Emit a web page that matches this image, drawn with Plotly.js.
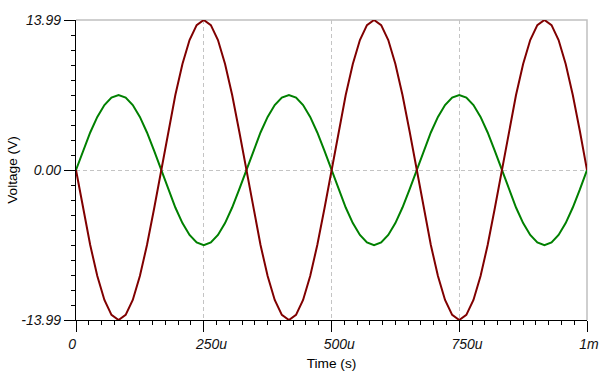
<!DOCTYPE html>
<html><head><meta charset="utf-8">
<script src="https://cdn.plot.ly/plotly-3.0.1.min.js"></script>
<style>html,body{margin:0;padding:0;background:#fff}#chart{width:603px;height:380px}</style>
</head><body><div id="chart"></div>
<script>
// time in microseconds
const time = [0, 13.9, 27.8, 41.7, 55.6, 69.4, 83.3, 97.2, 111.1, 125.0, 138.9, 152.8, 166.7, 180.6, 194.4, 208.3, 222.2, 236.1,
  250.0, 263.9, 277.8, 291.7, 305.6, 319.4, 333.3, 347.2, 361.1, 375.0, 388.9, 402.8, 416.7, 430.6, 444.4, 458.3, 472.2, 486.1,
  500.0, 513.9, 527.8, 541.7, 555.6, 569.4, 583.3, 597.2, 611.1, 625.0, 638.9, 652.8, 666.7, 680.6, 694.4, 708.3, 722.2, 736.1,
  750.0, 763.9, 777.8, 791.7, 805.6, 819.4, 833.3, 847.2, 861.1, 875.0, 888.9, 902.8, 916.7, 930.6, 944.4, 958.3, 972.2, 986.1, 1000.0];
const vGreen = [0, 1.81, 3.50, 4.95, 6.06, 6.76, 7.00, 6.76, 6.06, 4.95, 3.50, 1.81, 0, -1.81, -3.50, -4.95, -6.06, -6.76, -7.02, -6.76, -6.06, -4.95, -3.50, -1.81,
  0, 1.81, 3.50, 4.95, 6.06, 6.76, 7.00, 6.76, 6.06, 4.95, 3.50, 1.81, 0, -1.81, -3.50, -4.95, -6.06, -6.76, -7.02, -6.76, -6.06, -4.95, -3.50, -1.81,
  0, 1.81, 3.50, 4.95, 6.06, 6.76, 7.00, 6.76, 6.06, 4.95, 3.50, 1.81, 0, -1.81, -3.50, -4.95, -6.06, -6.76, -7.02, -6.76, -6.06, -4.95, -3.50, -1.81, 0];
const vRed = [0, -3.62, -7.00, -9.89, -12.12, -13.51, -13.99, -13.51, -12.12, -9.89, -7.00, -3.62, 0, 3.62, 7.00, 9.89, 12.12, 13.51, 13.99, 13.51, 12.12, 9.89, 7.00, 3.62,
  0, -3.62, -7.00, -9.89, -12.12, -13.51, -13.99, -13.51, -12.12, -9.89, -7.00, -3.62, 0, 3.62, 7.00, 9.89, 12.12, 13.51, 13.99, 13.51, 12.12, 9.89, 7.00, 3.62,
  0, -3.62, -7.00, -9.89, -12.12, -13.51, -13.99, -13.51, -12.12, -9.89, -7.00, -3.62, 0, 3.62, 7.00, 9.89, 12.12, 13.51, 13.99, 13.51, 12.12, 9.89, 7.00, 3.62, 0];

const xTickVals = [0, 250, 500, 750, 1000];
const xTickText = ['0', '250u', '500u', '750u', '1m'];
const xMidTicks = [125, 375, 625, 875];
const yTickVals = [-13.99, 0, 13.99];
const yTickText = ['-13.99', '0.00', '13.99'];
const yMidTicks = [-6.995, 6.995];

// labels are drawn left-aligned just left of their tick, as in the reference
const NB = '\u00a0';
const xText = xTickText.map(t => t.length >= 4 ? NB.repeat(3) + t : (t === '0' ? t + NB.repeat(3) : t));

const tickFont = {family: 'Liberation Sans, Arial, sans-serif', size: 14, color: '#111', style: 'italic'};
const titleFont = {family: 'Liberation Sans, Arial, sans-serif', size: 13.7, color: '#000'};

const traces = [
  {x: time, y: vGreen, mode: 'lines', line: {color: '#008000', width: 2}, hoverinfo: 'skip'},
  {x: time, y: vRed, mode: 'lines', line: {color: '#800000', width: 2}, hoverinfo: 'skip'}
];

const layout = {
  width: 603, height: 380,
  margin: {l: 76, r: 16, t: 20, b: 60},
  paper_bgcolor: '#fff', plot_bgcolor: '#fff',
  showlegend: false,
  xaxis: {
    range: [0, 1000], tickmode: 'array', tickvals: xTickVals, ticktext: xText,
    ticks: 'outside', ticklen: 11, tickwidth: 1, tickcolor: '#000', ticklabelshift: 2,
    ticklabeloverflow: 'allow',
    showline: true, linecolor: '#000', linewidth: 1.2,
    showgrid: true, gridcolor: '#c4c4c4', griddash: '4px,3px', gridwidth: 1, zeroline: false,
    tickfont: tickFont,
    minor: {tickmode: 'linear', tick0: 0, dtick: 25, ticks: 'outside', ticklen: 3.5, tickcolor: '#000', showgrid: false},
    title: {text: NB.repeat(4) + 'Time (s)', font: titleFont, standoff: 7},
    automargin: false, fixedrange: true
  },
  xaxis2: {
    overlaying: 'x', anchor: 'y', side: 'bottom', range: [0, 1000],
    tickmode: 'array', tickvals: xMidTicks, ticks: 'outside', ticklen: 6, tickcolor: '#000',
    showticklabels: false, showgrid: false, zeroline: false, showline: false
  },
  yaxis: {
    range: [-13.99, 13.99], tickmode: 'array', tickvals: yTickVals, ticktext: yTickText,
    ticks: 'outside', ticklen: 11, tickwidth: 1, tickcolor: '#000',
    ticklabeloverflow: 'allow',
    showline: true, linecolor: '#000', linewidth: 1.2,
    showgrid: true, gridcolor: '#c4c4c4', griddash: '4px,3px', gridwidth: 1, zeroline: false,
    tickfont: tickFont,
    minor: {tickmode: 'linear', tick0: 0, dtick: 1.399, ticks: 'outside', ticklen: 3.5, tickcolor: '#000', showgrid: false},
    title: {text: 'Voltage (V)', font: titleFont, standoff: 0},
    automargin: false, fixedrange: true
  },
  yaxis2: {
    overlaying: 'y', anchor: 'x', side: 'left', range: [-13.99, 13.99],
    tickmode: 'array', tickvals: yMidTicks, ticks: 'outside', ticklen: 5, tickcolor: '#000',
    showticklabels: false, showgrid: false, zeroline: false, showline: false
  },
  shapes: [
    {type: 'path', xref: 'paper', yref: 'paper', path: 'M 0 1 L 1 1 L 1 0', line: {color: '#c0c0c0', width: 1.5}, layer: 'below'}
  ]
};

Plotly.newPlot('chart', traces, layout, {staticPlot: true, displayModeBar: false});
</script>
</body></html>
